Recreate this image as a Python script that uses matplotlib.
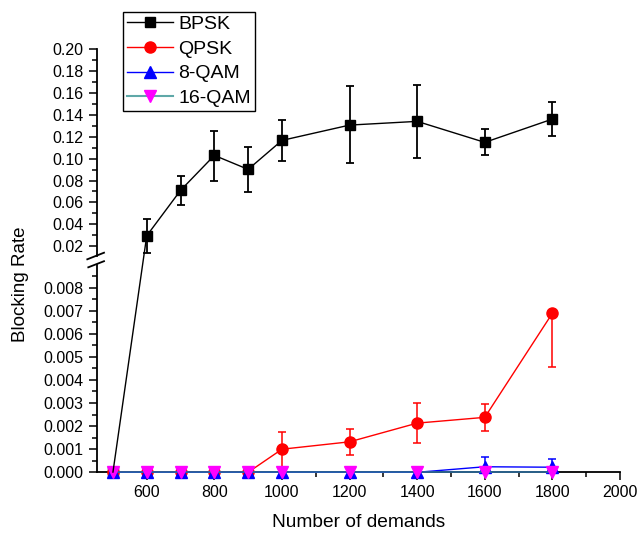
import matplotlib
matplotlib.use("Agg")
import matplotlib.pyplot as plt
from matplotlib.patches import ConnectionPatch
from matplotlib.lines import Line2D
from matplotlib.ticker import FormatStrFormatter
import numpy as np

plt.rcParams['font.family'] = ['Liberation Sans', 'DejaVu Sans']

demands = [500, 600, 700, 800, 900, 1000, 1200, 1400, 1600, 1800]
bpsk = [0.0, 0.0295, 0.0710, 0.1030, 0.0902, 0.1167, 0.1307, 0.1341, 0.1149, 0.1362]
bpsk_top = [0.0, 0.0447, 0.0843, 0.1255, 0.1109, 0.1353, 0.1664, 0.1673, 0.1271, 0.1518]
bpsk_bot = [0.0, 0.0136, 0.0575, 0.0798, 0.0694, 0.0975, 0.0957, 0.1008, 0.1033, 0.1209]
qpsk = [0, 0, 0, 0, 0, 0.00100, 0.00132, 0.00213, 0.00238, 0.00689]
qpsk_top = [0, 0, 0, 0, 0, 0.00176, 0.00189, 0.00298, 0.00295, 0.00689]
qpsk_bot = [0, 0, 0, 0, 0, 0.00022, 0.00076, 0.00127, 0.00177, 0.00454]
qam8 = [0, 0, 0, 0, 0, 0, 0, 0, 0.00024, 0.00022]
qam8_err = [0, 0, 0, 0, 0, 0, 0, 0, 0.00043, 0.00037]
qam16 = [0, 0, 0, 0, 0, 0, 0, 0, 0, 0]

x_ticks = [600, 800, 1000, 1200, 1400, 1600, 1800, 2000]
x_minor = [500, 700, 900, 1100, 1300, 1500, 1700, 1900]
low_ticks = [0.0, 0.001, 0.002, 0.003, 0.004, 0.005, 0.006, 0.007, 0.008]
up_ticks = [0.02, 0.04, 0.06, 0.08, 0.10, 0.12, 0.14, 0.16, 0.18, 0.20]

fig = plt.figure(figsize=(6.38, 5.35), dpi=100)
L, W = 96.7 / 638, (620 - 96.7) / 638
ax_low = fig.add_axes([L, 1 - 472.3 / 535, W, (472.3 - 264.5) / 535])
ax_up = fig.add_axes([L, 1 - 256 / 535, W, (256 - 49.3) / 535])

for ax in (ax_low, ax_up):
    ax.spines['top'].set_visible(False)
    ax.spines['right'].set_visible(False)
    ax.spines['left'].set_linewidth(1.3)
    ax.spines['bottom'].set_linewidth(1.3)
    ax.set_xlim(452, 2000)
    ax.tick_params(which='major', direction='out', length=6, width=1.1, labelsize=11.5)
    ax.tick_params(which='minor', direction='out', length=3.5, width=1.1)
    ax.patch.set_alpha(0)
ax_up.spines['bottom'].set_visible(False)
ax_up.tick_params(axis='x', which='both', bottom=False, labelbottom=False)

ax_low.set_ylim(0, 0.009)
ax_low.set_yticks(low_ticks)
ax_low.set_yticks(np.array(low_ticks) + 0.0005, minor=True)
ax_low.yaxis.set_major_formatter(FormatStrFormatter('%.3f'))
ax_low.set_xticks(x_ticks)
ax_low.set_xticks(x_minor, minor=True)

ax_up.set_ylim(0.011, 0.20)
ax_up.set_yticks(up_ticks)
ax_up.set_yticks(np.array(up_ticks[:-1]) + 0.01, minor=True)
ax_up.yaxis.set_major_formatter(FormatStrFormatter('%.2f'))

x = np.array(demands)
cap = 3.2

bb = np.array(bpsk); bt = np.array(bpsk_top); bl = np.array(bpsk_bot)
ax_up.errorbar(x[1:], bb[1:], yerr=[bb[1:] - bl[1:], bt[1:] - bb[1:]], color='black',
               lw=1.0, marker='s', ms=7.5, mfc='black', mec='black', ecolor='black',
               elinewidth=1.3, capsize=cap, capthick=1.3, zorder=3, clip_on=False)
ax_low.plot(x[:1], bb[:1], marker='s', ms=7.5, color='black', zorder=3, clip_on=False)
con = ConnectionPatch(xyA=(x[0], bb[0]), coordsA=ax_low.transData,
                      xyB=(x[1], bb[1]), coordsB=ax_up.transData, color='black', lw=1.0)
fig.add_artist(con)

qb = np.array(qpsk); qt = np.array(qpsk_top); ql = np.array(qpsk_bot)
ax_low.errorbar(x, qb, yerr=[qb - ql, qt - qb], color='red', lw=1.0, marker='o', ms=8,
                ecolor='red', elinewidth=1.1, capsize=cap, capthick=1.1, zorder=4, clip_on=False)
q8 = np.array(qam8); e8 = np.array(qam8_err)
ax_low.errorbar(x, q8, yerr=[np.minimum(e8, q8), e8], color='blue', lw=1.0, marker='^', ms=8,
                ecolor='blue', elinewidth=1.1, capsize=cap, capthick=1.1, zorder=5, clip_on=False)
ax_low.plot(x, qam16, color='#2f6f9f', lw=1.2, marker='v', ms=8, mfc='magenta', mec='magenta',
            zorder=6, clip_on=False)

ax_low.set_xlabel('Number of demands', fontsize=13.8, labelpad=10)
fig.text(21 / 638, 1 - 284 / 535, 'Blocking Rate', rotation=90, ha='center', va='center', fontsize=13.5)

for (x0, y0, x1, y1) in [(87.3, 259.3, 104, 252.7), (88.3, 267.3, 104, 261.2)]:
    fig.add_artist(Line2D([x0 / 638, x1 / 638], [1 - y0 / 535, 1 - y1 / 535],
                          color='black', lw=1.3, transform=fig.transFigure))

handles = [
    Line2D([], [], color='black', lw=1.0, marker='s', ms=7.5),
    Line2D([], [], color='red', lw=1.0, marker='o', ms=8),
    Line2D([], [], color='blue', lw=1.0, marker='^', ms=8),
    Line2D([], [], color='#5fa8a8', lw=1.5, marker='v', ms=8, mfc='magenta', mec='magenta'),
]
leg = fig.legend(handles, ['BPSK', 'QPSK', '8-QAM', '16-QAM'], loc='upper left',
                 bbox_to_anchor=(122.7 / 638, 1 - 11.7 / 535), fontsize=14, fancybox=False,
                 edgecolor='black', framealpha=1, handlelength=2.4, labelspacing=0.36,
                 borderpad=0.2, handletextpad=0.25, borderaxespad=0)
leg.get_frame().set_linewidth(1.0)

fig.savefig('out.png', dpi=100)
